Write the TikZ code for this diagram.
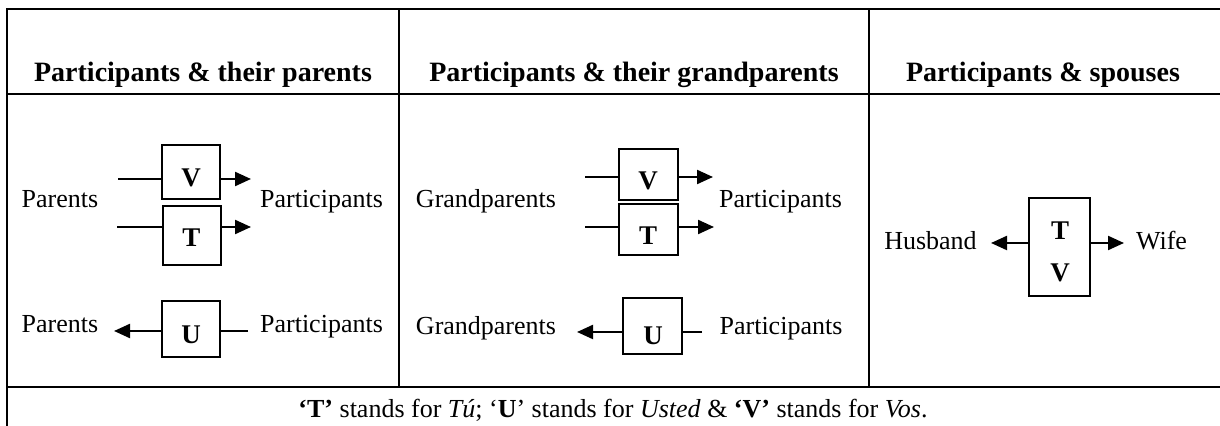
\documentclass[tikz,border=0pt]{standalone}
\usepackage{fontspec}
\setmainfont{Liberation Serif}
\usetikzlibrary{arrows.meta}
\begin{document}
\begin{tikzpicture}[x=0.5pt,y=-0.5pt,
  grid/.style={line width=1.4pt,line cap=rect},
  box/.style={draw,line width=1pt,inner sep=0pt},
  conn/.style={line width=1.1pt},
  arr/.style={line width=1.1pt,-{Triangle[length=8pt,width=7pt]}},
  txt/.style={anchor=base,inner sep=0pt,font=\fontsize{13}{15}\selectfont},
  head/.style={anchor=base,inner sep=0pt,font=\fontsize{14}{16}\selectfont\bfseries},
  letter/.style={anchor=base,inner sep=0pt,font=\fontsize{13.5}{15}\selectfont\bfseries}]
\useasboundingbox (0,0) rectangle (1220,426);
% table grid
\draw[grid] (7,9) -- (1220,9);
\draw[grid] (7,94) -- (1220,94);
\draw[grid] (7,387) -- (1220,387);
\draw[grid] (7,9) -- (7,430);
\draw[grid] (399,9) -- (399,387);
\draw[grid] (869,9) -- (869,387);
% headers
\node[head] (h1) at (203,82) {Participants \& their parents};
\node[head] (h2) at (634,82) {Participants \& their grandparents};
\node[head] (h3) at (1043,82) {Participants \& spouses};
% column 1
\node[txt] (p1) at (60,208) {Parents};
\node[txt] (c1) at (321.5,208) {Participants};
\node[box,minimum width=29pt,minimum height=27pt] (V1) at (191,172) {};
\node[box,minimum width=29pt,minimum height=29.5pt] (T1) at (191.5,235.5) {};
\node[letter] (lV1) at (191,186.5) {V};
\node[letter] (lT1) at (191.5,247) {T};
\coordinate (V1in) at (118,179);
\coordinate (V1out) at (251,179);
\coordinate (T1in) at (117,227);
\coordinate (T1out) at (251,227);
\draw[conn] (V1in) -- (V1in -| V1.west);
\draw[arr] (V1out -| V1.east) -- (V1out);
\draw[conn] (T1in) -- (T1in -| T1.west);
\draw[arr] (T1out -| T1.east) -- (T1out);
\node[txt] (p2) at (60,333) {Parents};
\node[txt] (c2) at (321.5,333) {Participants};
\node[box,minimum width=29pt,minimum height=28pt] (U1) at (191,329) {};
\node[letter] (lU1) at (191,344) {U};
\coordinate (U1out) at (114,331);
\coordinate (U1in) at (248,331);
\draw[arr] (U1out -| U1.west) -- (U1out);
\draw[conn] (U1in) -- (U1in -| U1.east);
% column 2
\node[txt] (g1) at (486,208) {Grandparents};
\node[txt] (c3) at (780.5,208) {Participants};
\node[box,minimum width=29.5pt,minimum height=25.5pt] (V2) at (648.5,174.5) {};
\node[box,minimum width=29.5pt,minimum height=25.5pt] (T2) at (648.5,229.5) {};
\node[letter] (lV2) at (648,190) {V};
\node[letter] (lT2) at (648,245) {T};
\coordinate (V2in) at (585,177);
\coordinate (V2out) at (713,177);
\coordinate (T2in) at (585,227);
\coordinate (T2out) at (714,227);
\draw[conn] (V2in) -- (V2in -| V2.west);
\draw[arr] (V2out -| V2.east) -- (V2out);
\draw[conn] (T2in) -- (T2in -| T2.west);
\draw[arr] (T2out -| T2.east) -- (T2out);
\node[txt] (g2) at (486,335) {Grandparents};
\node[txt] (c4) at (781,335) {Participants};
\node[box,minimum width=29.5pt,minimum height=28pt] (U2) at (652.5,326) {};
\node[letter] (lU2) at (653,345) {U};
\coordinate (U2out) at (577,332);
\coordinate (U2in) at (702,332);
\draw[arr] (U2out -| U2.west) -- (U2out);
\draw[conn] (U2in) -- (U2in -| U2.east);
% column 3
\node[txt] (hu) at (930.5,250) {Husband};
\node[txt] (wi) at (1161.5,250) {Wife};
\node[box,minimum width=30.5pt,minimum height=49pt] (TV) at (1059.5,247) {};
\node[letter] (lT3) at (1060,240) {T};
\node[letter] (lV3) at (1060,281.5) {V};
\coordinate (TVl) at (991,243);
\coordinate (TVr) at (1124,243);
\draw[arr] (TVl -| TV.west) -- (TVl);
\draw[arr] (TVr -| TV.east) -- (TVr);
% footer
\node[txt] (foot) at (613,418) {\textbf{‘T’} stands for \textit{Tú}; ‘\textbf{U}’ stands for \textit{Usted} \& \textbf{‘V’} stands for \textit{Vos}.};
\end{tikzpicture}
\end{document}
